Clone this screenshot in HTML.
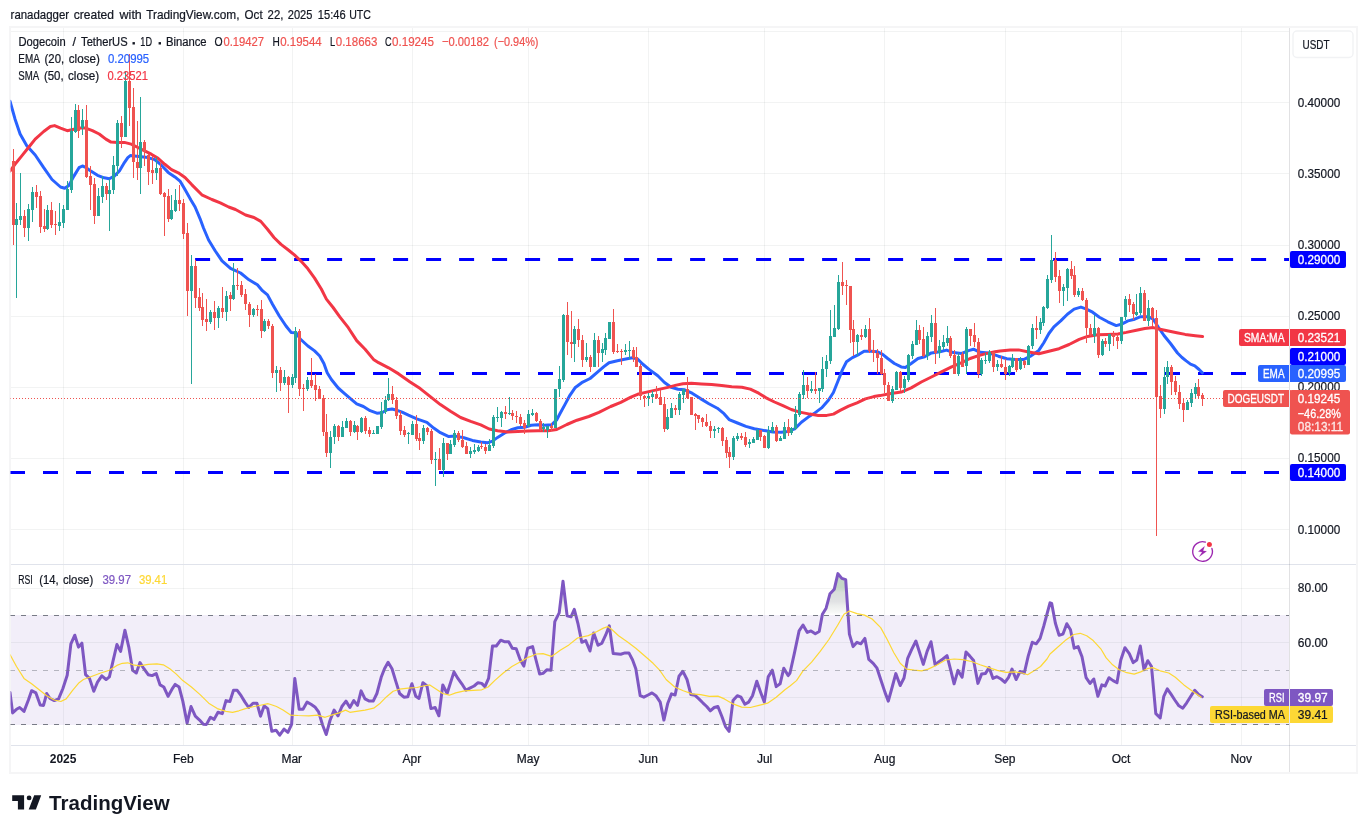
<!DOCTYPE html>
<html><head><meta charset="utf-8"><title>DOGEUSDT chart</title>
<style>html,body{margin:0;padding:0;background:#fff;}body{width:1367px;height:833px;position:relative;overflow:hidden;font-family:"Liberation Sans", sans-serif;}</style>
</head><body>
<svg width="1367" height="833" viewBox="0 0 1367 833" style="position:absolute;left:0;top:0;font-family:'Liberation Sans',sans-serif">
<defs><filter id="gs" x="0" y="0" width="100%" height="100%" filterUnits="userSpaceOnUse" color-interpolation-filters="sRGB"><feOffset dx="0" dy="0"/></filter><clipPath id="cm"><rect x="10.5" y="28" width="1278.5" height="536"/></clipPath><clipPath id="cr"><rect x="10.5" y="565" width="1278.5" height="180"/></clipPath><linearGradient id="ob" gradientUnits="userSpaceOnUse" x1="0" y1="570" x2="0" y2="615"><stop offset="0" stop-color="#c0d4c3"/><stop offset="0.40" stop-color="#c6d7c8"/><stop offset="0.50" stop-color="#d9dedb"/><stop offset="0.70" stop-color="#e1e2e4"/><stop offset="0.80" stop-color="#eceeed"/><stop offset="0.93" stop-color="#f6f7f6"/><stop offset="1" stop-color="#ffffff"/></linearGradient></defs>
<rect x="10" y="27" width="1347" height="746" fill="#fff" stroke="#f5f5f6" stroke-width="2"/>
<g shape-rendering="crispEdges">
<rect x="63" y="28" width="1" height="717" fill="#2a2e39" fill-opacity="0.06"/>
<rect x="183" y="28" width="1" height="717" fill="#2a2e39" fill-opacity="0.06"/>
<rect x="292" y="28" width="1" height="717" fill="#2a2e39" fill-opacity="0.06"/>
<rect x="412" y="28" width="1" height="717" fill="#2a2e39" fill-opacity="0.06"/>
<rect x="528" y="28" width="1" height="717" fill="#2a2e39" fill-opacity="0.06"/>
<rect x="648" y="28" width="1" height="717" fill="#2a2e39" fill-opacity="0.06"/>
<rect x="764" y="28" width="1" height="717" fill="#2a2e39" fill-opacity="0.06"/>
<rect x="884" y="28" width="1" height="717" fill="#2a2e39" fill-opacity="0.06"/>
<rect x="1005" y="28" width="1" height="717" fill="#2a2e39" fill-opacity="0.06"/>
<rect x="1121" y="28" width="1" height="717" fill="#2a2e39" fill-opacity="0.06"/>
<rect x="1241" y="28" width="1" height="717" fill="#2a2e39" fill-opacity="0.06"/>
<rect x="11" y="31" width="1278" height="1" fill="#2a2e39" fill-opacity="0.06"/>
<rect x="11" y="102" width="1278" height="1" fill="#2a2e39" fill-opacity="0.06"/>
<rect x="11" y="173" width="1278" height="1" fill="#2a2e39" fill-opacity="0.06"/>
<rect x="11" y="245" width="1278" height="1" fill="#2a2e39" fill-opacity="0.06"/>
<rect x="11" y="316" width="1278" height="1" fill="#2a2e39" fill-opacity="0.06"/>
<rect x="11" y="387" width="1278" height="1" fill="#2a2e39" fill-opacity="0.06"/>
<rect x="11" y="458" width="1278" height="1" fill="#2a2e39" fill-opacity="0.06"/>
<rect x="11" y="529" width="1278" height="1" fill="#2a2e39" fill-opacity="0.06"/>
<rect x="11" y="615" width="1278" height="109.5" fill="#7e57c2" fill-opacity="0.1"/>
<rect x="11" y="588" width="1278" height="1" fill="#2a2e39" fill-opacity="0.06"/>
<rect x="11" y="642" width="1278" height="1" fill="#2a2e39" fill-opacity="0.06"/>
<rect x="11" y="697" width="1278" height="1" fill="#2a2e39" fill-opacity="0.06"/>
</g>
<g shape-rendering="crispEdges">
<rect x="11" y="564" width="1345" height="1" fill="#e0e3eb"/>
<rect x="11" y="745" width="1345" height="1" fill="#e0e3eb"/>
<rect x="1289" y="28" width="1" height="744" fill="#2a2e39" fill-opacity="0.14"/>
</g>
<g clip-path="url(#cm)">
<line x1="195.1" y1="259.5" x2="1290" y2="259.5" stroke="#0000ff" stroke-width="3" stroke-dasharray="15 18"/>
<line x1="307" y1="373.5" x2="1290" y2="373.5" stroke="#0000ff" stroke-width="3" stroke-dasharray="15 18"/>
<line x1="10" y1="472.5" x2="1290" y2="472.5" stroke="#0000ff" stroke-width="3" stroke-dasharray="15 18"/>
<polyline points="10,101.2 15,118.9 20.1,134 26.8,145.8 35.2,155 43.7,167.7 52,179.5 60.5,187 64.7,188.2 68.9,185.4 73.9,176.1 79,167.7 82.4,166 85.7,167.4 90.8,171 97.5,175.3 104.2,177.8 109.3,178.8 114.3,176.1 119.4,171 124.4,162.6 127.8,157.6 130.3,155.6 134.5,155.9 141.2,156.7 148,157.6 154.7,159.6 161.4,165.2 168.2,172.4 174.9,176.9 180,181.1 185,189.6 190.9,200 195.1,207 200.1,218.8 203.5,228 208.6,240 215.3,251 222,260.8 230.5,268.3 240.6,273 249,279.8 257.4,284.8 262.4,290.7 267.5,294.9 272.5,304.2 279.3,316 286,326 291.1,332.4 296.1,332.8 300.3,339 307.9,346 314.6,350.9 319.7,356 323.9,363.6 327.2,372.8 331.4,379.5 338.2,388 344.9,393.8 351.6,399.7 356.7,403.9 363.4,406.5 370.1,410.7 376.9,413.2 381.9,412.7 387,409.8 392,409 397.1,410.3 402.1,412.2 408.4,415.2 416.8,418.9 426.9,422.3 433.7,428.1 440.4,432.7 448.8,436.6 455.5,436.1 463.9,437.7 472.4,440.4 480.8,441.9 487.5,442.8 492.5,441.1 497.6,437.4 504.3,433.2 511.1,429.8 517.8,427.8 524.5,427.3 531.2,425.3 538,424.8 544.7,425.3 551.4,424.8 556.5,420.2 559.9,413.8 564.9,404.6 569.9,395.3 575,387.8 581.7,382.7 590.1,378.5 597.2,372.4 603.9,366.6 609,362.7 617.4,360.7 625.8,359 632.5,357.8 637.6,359 642.6,364 649.4,369.6 657.8,375.8 664.5,382.5 671.2,387.3 678,389.3 684.7,389.8 692.1,393.2 700.5,398.6 708.9,403.7 717.3,408.2 724,413.7 729.1,419.6 737.5,423 745.9,426.4 754.3,428.7 764.4,430.6 772.8,431.9 781.2,432.3 788,431.4 794.7,428.9 801.4,422.2 808.2,417.1 814.9,412.9 821.6,407.9 828.4,400.3 833.4,392.5 837.8,381.5 842.5,369.6 846.5,361.8 852.4,357.6 859.1,354.3 864.1,351.2 870.9,351.2 877.6,351.8 882.6,354.3 887.7,358.5 894.4,363.5 901.2,366.9 905.4,367.4 911.2,363.5 918,358.5 924.7,356.8 931.4,352.9 939.9,351.8 946.6,350.1 953.3,352.6 961.7,353.4 968.5,350.6 973.5,349.2 980.2,352.3 988.6,352.9 998.4,356.2 1006.8,358.8 1015.2,359.6 1023.7,359.6 1030.4,356.2 1038.8,350.4 1043.8,342.8 1048.9,333.5 1053.9,326.8 1060.7,320.9 1067.4,314.2 1074.1,309.1 1080.9,307.1 1085.9,308.8 1092.6,312.2 1099.4,317.2 1107.8,321.8 1116.2,325.6 1121.2,324.3 1128,320.9 1134.7,319.2 1140.6,316.7 1148.2,316.7 1153.2,319.2 1158.1,326.8 1164,335.5 1170.5,343.5 1177.5,353 1182,357.5 1186.2,360.9 1190.5,364.1 1194.8,365.8 1199.1,369.5 1202.4,372.8" fill="none" stroke="#2962ff" stroke-width="3" stroke-linejoin="round" stroke-linecap="round" />
<polyline points="10,171 15,164.3 21.8,155.9 28.5,147.5 35.2,139.1 43.7,131.5 50.4,126.5 54.6,125.6 60.5,128.1 67.2,130.7 73.9,129.3 80.7,128.1 85.7,128.1 92.4,130.7 99.2,134 105.9,139.1 111,142.1 117.7,142.4 124.4,142.4 131.2,144.1 137.9,147.5 144.6,150.9 151.3,154.2 158.1,158.4 164.8,164.3 171.5,169.6 178.3,172.8 185,177.4 191.7,184.6 201.8,194.8 211.9,199.5 220.3,202.8 228.7,207 235.5,209.5 245.6,215 254,217.5 260.8,221.4 267.5,229.3 274.2,237.7 281,244.4 287.7,249.5 294.4,254.9 301.2,261.3 307.9,268.8 314.6,278.1 321.3,289 326.4,299.1 333.1,307.5 339.8,316.8 348.3,327.7 356.7,340.6 365.1,349.3 373.5,359.4 378.6,362.7 388.6,367.8 398.7,373.9 410.1,381.9 420.2,388.6 430.3,396.7 440.4,404.6 450.5,411.3 460.6,417.5 470.7,421.4 480.8,424.8 489.2,429 497.6,430.7 507.7,432 517.8,431.5 527.9,431 538,430.7 548.1,430.7 556.8,429.5 566.9,424.5 577,420.2 588.8,416.5 598.9,412.3 610.7,406.5 620.8,402.3 630.9,397.2 637.6,394.3 647.7,391.9 657.8,389.6 667.9,387.4 676.3,385.1 683,383.7 691.4,383.2 701.5,383.9 711.6,384.6 721.7,385.6 731.8,386.8 741.9,387.3 750.3,389.1 758.7,393.2 766.1,397.8 774.5,402 782.9,405.7 791.3,409.5 799.8,412.1 809.8,414.1 818.3,415.4 826.7,415.4 833.4,414.1 840.1,410.4 848.6,406.2 857,402.8 865.4,398.9 873.8,396.6 880,395.6 889.4,393.8 901.2,392.1 911.2,387.9 921.3,382 931.4,377 941.5,371.9 951.6,366.9 961.7,362.7 970.1,358.5 978.6,355.6 987,353.4 995,351.8 1000.1,350.9 1010.2,349.9 1018.6,349.9 1028.7,352 1038.8,353.7 1048.9,351.2 1059,348.7 1069.1,344.5 1079.2,339.4 1087.6,336.4 1097.7,334.7 1107.8,334.4 1117.9,334 1126.3,332.4 1136.4,330.2 1144.8,328.5 1153.2,327.6 1160,329.3 1168.4,331 1176.8,332.7 1185.2,334.4 1195.3,335.7 1202.6,336.6" fill="none" stroke="#f23645" stroke-width="3" stroke-linejoin="round" stroke-linecap="round" />
<g shape-rendering="crispEdges">
<rect x="13" y="149" width="1" height="96" fill="#ef5350"/><rect x="12" y="161" width="3" height="64" fill="#ef5350"/>
<rect x="16" y="203" width="1" height="95" fill="#26a69a"/><rect x="15" y="219" width="3" height="6" fill="#26a69a"/>
<rect x="20" y="173" width="1" height="52" fill="#26a69a"/><rect x="19" y="216" width="3" height="4" fill="#26a69a"/>
<rect x="24" y="210" width="1" height="27" fill="#ef5350"/><rect x="23" y="216" width="3" height="12" fill="#ef5350"/>
<rect x="28" y="204" width="1" height="37" fill="#26a69a"/><rect x="27" y="209" width="3" height="19" fill="#26a69a"/>
<rect x="32" y="187" width="1" height="35" fill="#26a69a"/><rect x="31" y="192" width="3" height="18" fill="#26a69a"/>
<rect x="36" y="185" width="1" height="23" fill="#ef5350"/><rect x="35" y="192" width="3" height="5" fill="#ef5350"/>
<rect x="40" y="191" width="1" height="42" fill="#ef5350"/><rect x="39" y="196" width="3" height="31" fill="#ef5350"/>
<rect x="44" y="209" width="1" height="23" fill="#ef5350"/><rect x="43" y="226" width="3" height="3" fill="#ef5350"/>
<rect x="47" y="205" width="1" height="25" fill="#26a69a"/><rect x="46" y="210" width="3" height="19" fill="#26a69a"/>
<rect x="51" y="202" width="1" height="26" fill="#ef5350"/><rect x="50" y="210" width="3" height="15" fill="#ef5350"/>
<rect x="55" y="211" width="1" height="24" fill="#ef5350"/><rect x="54" y="224" width="3" height="1" fill="#ef5350"/>
<rect x="59" y="203" width="1" height="28" fill="#26a69a"/><rect x="58" y="222" width="3" height="4" fill="#26a69a"/>
<rect x="63" y="205" width="1" height="23" fill="#26a69a"/><rect x="62" y="209" width="3" height="14" fill="#26a69a"/>
<rect x="67" y="181" width="1" height="29" fill="#26a69a"/><rect x="66" y="189" width="3" height="21" fill="#26a69a"/>
<rect x="71" y="117" width="1" height="76" fill="#26a69a"/><rect x="70" y="131" width="3" height="59" fill="#26a69a"/>
<rect x="75" y="104" width="1" height="29" fill="#26a69a"/><rect x="74" y="110" width="3" height="22" fill="#26a69a"/>
<rect x="78" y="105" width="1" height="33" fill="#ef5350"/><rect x="77" y="110" width="3" height="21" fill="#ef5350"/>
<rect x="82" y="109" width="1" height="26" fill="#26a69a"/><rect x="81" y="120" width="3" height="8" fill="#26a69a"/>
<rect x="86" y="105" width="1" height="73" fill="#ef5350"/><rect x="85" y="120" width="3" height="57" fill="#ef5350"/>
<rect x="90" y="166" width="1" height="44" fill="#ef5350"/><rect x="89" y="176" width="3" height="9" fill="#ef5350"/>
<rect x="94" y="178" width="1" height="46" fill="#ef5350"/><rect x="93" y="184" width="3" height="32" fill="#ef5350"/>
<rect x="98" y="188" width="1" height="28" fill="#26a69a"/><rect x="97" y="196" width="3" height="20" fill="#26a69a"/>
<rect x="102" y="176" width="1" height="27" fill="#26a69a"/><rect x="101" y="186" width="3" height="11" fill="#26a69a"/>
<rect x="106" y="183" width="1" height="17" fill="#ef5350"/><rect x="105" y="186" width="3" height="8" fill="#ef5350"/>
<rect x="109" y="179" width="1" height="52" fill="#26a69a"/><rect x="108" y="190" width="3" height="4" fill="#26a69a"/>
<rect x="113" y="156" width="1" height="38" fill="#26a69a"/><rect x="112" y="165" width="3" height="25" fill="#26a69a"/>
<rect x="117" y="120" width="1" height="56" fill="#26a69a"/><rect x="116" y="123" width="3" height="43" fill="#26a69a"/>
<rect x="121" y="116" width="1" height="32" fill="#ef5350"/><rect x="120" y="123" width="3" height="14" fill="#ef5350"/>
<rect x="125" y="71" width="1" height="66" fill="#26a69a"/><rect x="124" y="81" width="3" height="56" fill="#26a69a"/>
<rect x="129" y="54" width="1" height="72" fill="#ef5350"/><rect x="128" y="81" width="3" height="27" fill="#ef5350"/>
<rect x="133" y="88" width="1" height="90" fill="#ef5350"/><rect x="132" y="107" width="3" height="55" fill="#ef5350"/>
<rect x="137" y="121" width="1" height="59" fill="#ef5350"/><rect x="136" y="162" width="3" height="6" fill="#ef5350"/>
<rect x="140" y="97" width="1" height="97" fill="#26a69a"/><rect x="139" y="142" width="3" height="26" fill="#26a69a"/>
<rect x="144" y="140" width="1" height="26" fill="#ef5350"/><rect x="143" y="142" width="3" height="10" fill="#ef5350"/>
<rect x="148" y="154" width="1" height="31" fill="#ef5350"/><rect x="147" y="155" width="3" height="17" fill="#ef5350"/>
<rect x="152" y="156" width="1" height="28" fill="#ef5350"/><rect x="151" y="170" width="3" height="3" fill="#ef5350"/>
<rect x="156" y="157" width="1" height="23" fill="#26a69a"/><rect x="155" y="168" width="3" height="5" fill="#26a69a"/>
<rect x="160" y="163" width="1" height="32" fill="#ef5350"/><rect x="159" y="168" width="3" height="26" fill="#ef5350"/>
<rect x="164" y="192" width="1" height="44" fill="#ef5350"/><rect x="163" y="193" width="3" height="4" fill="#ef5350"/>
<rect x="168" y="189" width="1" height="33" fill="#ef5350"/><rect x="167" y="196" width="3" height="23" fill="#ef5350"/>
<rect x="171" y="195" width="1" height="25" fill="#26a69a"/><rect x="170" y="210" width="3" height="9" fill="#26a69a"/>
<rect x="175" y="189" width="1" height="23" fill="#26a69a"/><rect x="174" y="200" width="3" height="11" fill="#26a69a"/>
<rect x="179" y="185" width="1" height="26" fill="#ef5350"/><rect x="178" y="200" width="3" height="4" fill="#ef5350"/>
<rect x="183" y="199" width="1" height="40" fill="#ef5350"/><rect x="182" y="203" width="3" height="31" fill="#ef5350"/>
<rect x="187" y="223" width="1" height="93" fill="#ef5350"/><rect x="186" y="233" width="3" height="58" fill="#ef5350"/>
<rect x="191" y="255" width="1" height="129" fill="#26a69a"/><rect x="190" y="266" width="3" height="25" fill="#26a69a"/>
<rect x="195" y="260" width="1" height="48" fill="#ef5350"/><rect x="194" y="266" width="3" height="32" fill="#ef5350"/>
<rect x="199" y="288" width="1" height="23" fill="#ef5350"/><rect x="198" y="297" width="3" height="11" fill="#ef5350"/>
<rect x="202" y="293" width="1" height="33" fill="#ef5350"/><rect x="201" y="307" width="3" height="13" fill="#ef5350"/>
<rect x="206" y="299" width="1" height="32" fill="#ef5350"/><rect x="205" y="319" width="3" height="3" fill="#ef5350"/>
<rect x="210" y="310" width="1" height="14" fill="#26a69a"/><rect x="209" y="312" width="3" height="10" fill="#26a69a"/>
<rect x="214" y="301" width="1" height="29" fill="#ef5350"/><rect x="213" y="312" width="3" height="6" fill="#ef5350"/>
<rect x="218" y="306" width="1" height="22" fill="#26a69a"/><rect x="217" y="308" width="3" height="10" fill="#26a69a"/>
<rect x="222" y="287" width="1" height="31" fill="#ef5350"/><rect x="221" y="308" width="3" height="4" fill="#ef5350"/>
<rect x="226" y="291" width="1" height="30" fill="#26a69a"/><rect x="225" y="296" width="3" height="16" fill="#26a69a"/>
<rect x="230" y="292" width="1" height="19" fill="#ef5350"/><rect x="229" y="295" width="3" height="4" fill="#ef5350"/>
<rect x="233" y="263" width="1" height="37" fill="#26a69a"/><rect x="232" y="285" width="3" height="14" fill="#26a69a"/>
<rect x="237" y="268" width="1" height="22" fill="#ef5350"/><rect x="236" y="285" width="3" height="1" fill="#ef5350"/>
<rect x="241" y="281" width="1" height="16" fill="#ef5350"/><rect x="240" y="285" width="3" height="10" fill="#ef5350"/>
<rect x="245" y="289" width="1" height="21" fill="#ef5350"/><rect x="244" y="294" width="3" height="10" fill="#ef5350"/>
<rect x="249" y="302" width="1" height="25" fill="#ef5350"/><rect x="248" y="304" width="3" height="11" fill="#ef5350"/>
<rect x="253" y="308" width="1" height="9" fill="#26a69a"/><rect x="252" y="309" width="3" height="6" fill="#26a69a"/>
<rect x="257" y="305" width="1" height="11" fill="#ef5350"/><rect x="256" y="309" width="3" height="1" fill="#ef5350"/>
<rect x="261" y="300" width="1" height="38" fill="#ef5350"/><rect x="260" y="309" width="3" height="22" fill="#ef5350"/>
<rect x="264" y="319" width="1" height="13" fill="#26a69a"/><rect x="263" y="321" width="3" height="10" fill="#26a69a"/>
<rect x="268" y="319" width="1" height="10" fill="#ef5350"/><rect x="267" y="321" width="3" height="5" fill="#ef5350"/>
<rect x="272" y="324" width="1" height="54" fill="#ef5350"/><rect x="271" y="326" width="3" height="47" fill="#ef5350"/>
<rect x="276" y="366" width="1" height="26" fill="#26a69a"/><rect x="275" y="370" width="3" height="3" fill="#26a69a"/>
<rect x="280" y="367" width="1" height="24" fill="#ef5350"/><rect x="279" y="370" width="3" height="13" fill="#ef5350"/>
<rect x="284" y="370" width="1" height="15" fill="#26a69a"/><rect x="283" y="377" width="3" height="6" fill="#26a69a"/>
<rect x="288" y="376" width="1" height="37" fill="#ef5350"/><rect x="287" y="377" width="3" height="8" fill="#ef5350"/>
<rect x="292" y="374" width="1" height="14" fill="#26a69a"/><rect x="291" y="377" width="3" height="8" fill="#26a69a"/>
<rect x="295" y="327" width="1" height="56" fill="#26a69a"/><rect x="294" y="331" width="3" height="47" fill="#26a69a"/>
<rect x="299" y="329" width="1" height="67" fill="#ef5350"/><rect x="298" y="331" width="3" height="58" fill="#ef5350"/>
<rect x="303" y="384" width="1" height="27" fill="#ef5350"/><rect x="302" y="388" width="3" height="1" fill="#ef5350"/>
<rect x="307" y="377" width="1" height="14" fill="#26a69a"/><rect x="306" y="380" width="3" height="9" fill="#26a69a"/>
<rect x="311" y="358" width="1" height="30" fill="#ef5350"/><rect x="310" y="380" width="3" height="6" fill="#ef5350"/>
<rect x="315" y="374" width="1" height="27" fill="#ef5350"/><rect x="314" y="385" width="3" height="5" fill="#ef5350"/>
<rect x="319" y="386" width="1" height="13" fill="#ef5350"/><rect x="318" y="389" width="3" height="10" fill="#ef5350"/>
<rect x="323" y="395" width="1" height="41" fill="#ef5350"/><rect x="322" y="398" width="3" height="34" fill="#ef5350"/>
<rect x="326" y="414" width="1" height="43" fill="#ef5350"/><rect x="325" y="432" width="3" height="21" fill="#ef5350"/>
<rect x="330" y="431" width="1" height="37" fill="#26a69a"/><rect x="329" y="437" width="3" height="16" fill="#26a69a"/>
<rect x="334" y="424" width="1" height="20" fill="#26a69a"/><rect x="333" y="426" width="3" height="11" fill="#26a69a"/>
<rect x="338" y="425" width="1" height="16" fill="#ef5350"/><rect x="337" y="426" width="3" height="11" fill="#ef5350"/>
<rect x="342" y="421" width="1" height="16" fill="#26a69a"/><rect x="341" y="427" width="3" height="10" fill="#26a69a"/>
<rect x="346" y="418" width="1" height="10" fill="#26a69a"/><rect x="345" y="421" width="3" height="7" fill="#26a69a"/>
<rect x="350" y="420" width="1" height="16" fill="#ef5350"/><rect x="349" y="421" width="3" height="11" fill="#ef5350"/>
<rect x="354" y="421" width="1" height="12" fill="#26a69a"/><rect x="353" y="425" width="3" height="7" fill="#26a69a"/>
<rect x="357" y="425" width="1" height="15" fill="#ef5350"/><rect x="356" y="426" width="3" height="6" fill="#ef5350"/>
<rect x="361" y="417" width="1" height="16" fill="#26a69a"/><rect x="360" y="418" width="3" height="14" fill="#26a69a"/>
<rect x="365" y="416" width="1" height="18" fill="#ef5350"/><rect x="364" y="418" width="3" height="13" fill="#ef5350"/>
<rect x="369" y="427" width="1" height="10" fill="#ef5350"/><rect x="368" y="430" width="3" height="4" fill="#ef5350"/>
<rect x="373" y="430" width="1" height="4" fill="#26a69a"/><rect x="372" y="433" width="3" height="1" fill="#26a69a"/>
<rect x="377" y="426" width="1" height="8" fill="#26a69a"/><rect x="376" y="426" width="3" height="8" fill="#26a69a"/>
<rect x="381" y="402" width="1" height="27" fill="#26a69a"/><rect x="380" y="411" width="3" height="16" fill="#26a69a"/>
<rect x="385" y="396" width="1" height="18" fill="#26a69a"/><rect x="384" y="400" width="3" height="12" fill="#26a69a"/>
<rect x="388" y="378" width="1" height="23" fill="#26a69a"/><rect x="387" y="394" width="3" height="6" fill="#26a69a"/>
<rect x="392" y="386" width="1" height="18" fill="#ef5350"/><rect x="391" y="394" width="3" height="6" fill="#ef5350"/>
<rect x="396" y="397" width="1" height="22" fill="#ef5350"/><rect x="395" y="400" width="3" height="16" fill="#ef5350"/>
<rect x="400" y="411" width="1" height="24" fill="#ef5350"/><rect x="399" y="415" width="3" height="16" fill="#ef5350"/>
<rect x="404" y="426" width="1" height="11" fill="#ef5350"/><rect x="403" y="430" width="3" height="5" fill="#ef5350"/>
<rect x="408" y="432" width="1" height="12" fill="#26a69a"/><rect x="407" y="433" width="3" height="1" fill="#26a69a"/>
<rect x="412" y="421" width="1" height="14" fill="#26a69a"/><rect x="411" y="424" width="3" height="11" fill="#26a69a"/>
<rect x="416" y="415" width="1" height="26" fill="#ef5350"/><rect x="415" y="424" width="3" height="15" fill="#ef5350"/>
<rect x="419" y="433" width="1" height="17" fill="#ef5350"/><rect x="418" y="438" width="3" height="3" fill="#ef5350"/>
<rect x="423" y="425" width="1" height="19" fill="#26a69a"/><rect x="422" y="428" width="3" height="13" fill="#26a69a"/>
<rect x="427" y="427" width="1" height="8" fill="#ef5350"/><rect x="426" y="428" width="3" height="4" fill="#ef5350"/>
<rect x="431" y="429" width="1" height="35" fill="#ef5350"/><rect x="430" y="431" width="3" height="29" fill="#ef5350"/>
<rect x="435" y="452" width="1" height="34" fill="#26a69a"/><rect x="434" y="459" width="3" height="1" fill="#26a69a"/>
<rect x="439" y="448" width="1" height="22" fill="#ef5350"/><rect x="438" y="459" width="3" height="11" fill="#ef5350"/>
<rect x="443" y="438" width="1" height="39" fill="#26a69a"/><rect x="442" y="443" width="3" height="27" fill="#26a69a"/>
<rect x="447" y="443" width="1" height="17" fill="#ef5350"/><rect x="446" y="443" width="3" height="11" fill="#ef5350"/>
<rect x="450" y="440" width="1" height="14" fill="#26a69a"/><rect x="449" y="444" width="3" height="10" fill="#26a69a"/>
<rect x="454" y="430" width="1" height="17" fill="#26a69a"/><rect x="453" y="433" width="3" height="12" fill="#26a69a"/>
<rect x="458" y="431" width="1" height="11" fill="#ef5350"/><rect x="457" y="433" width="3" height="7" fill="#ef5350"/>
<rect x="462" y="430" width="1" height="18" fill="#ef5350"/><rect x="461" y="440" width="3" height="7" fill="#ef5350"/>
<rect x="466" y="442" width="1" height="12" fill="#ef5350"/><rect x="465" y="446" width="3" height="8" fill="#ef5350"/>
<rect x="470" y="447" width="1" height="11" fill="#26a69a"/><rect x="469" y="451" width="3" height="3" fill="#26a69a"/>
<rect x="474" y="444" width="1" height="10" fill="#26a69a"/><rect x="473" y="450" width="3" height="2" fill="#26a69a"/>
<rect x="478" y="445" width="1" height="7" fill="#26a69a"/><rect x="477" y="447" width="3" height="4" fill="#26a69a"/>
<rect x="481" y="442" width="1" height="7" fill="#ef5350"/><rect x="480" y="446" width="3" height="1" fill="#ef5350"/>
<rect x="485" y="444" width="1" height="10" fill="#ef5350"/><rect x="484" y="447" width="3" height="4" fill="#ef5350"/>
<rect x="489" y="439" width="1" height="12" fill="#26a69a"/><rect x="488" y="445" width="3" height="6" fill="#26a69a"/>
<rect x="493" y="415" width="1" height="33" fill="#26a69a"/><rect x="492" y="417" width="3" height="29" fill="#26a69a"/>
<rect x="497" y="407" width="1" height="15" fill="#26a69a"/><rect x="496" y="417" width="3" height="1" fill="#26a69a"/>
<rect x="501" y="411" width="1" height="16" fill="#26a69a"/><rect x="500" y="412" width="3" height="6" fill="#26a69a"/>
<rect x="505" y="406" width="1" height="13" fill="#ef5350"/><rect x="504" y="412" width="3" height="2" fill="#ef5350"/>
<rect x="509" y="397" width="1" height="18" fill="#26a69a"/><rect x="508" y="413" width="3" height="1" fill="#26a69a"/>
<rect x="512" y="410" width="1" height="10" fill="#ef5350"/><rect x="511" y="413" width="3" height="3" fill="#ef5350"/>
<rect x="516" y="411" width="1" height="12" fill="#ef5350"/><rect x="515" y="416" width="3" height="1" fill="#ef5350"/>
<rect x="520" y="414" width="1" height="12" fill="#ef5350"/><rect x="519" y="417" width="3" height="7" fill="#ef5350"/>
<rect x="524" y="420" width="1" height="14" fill="#ef5350"/><rect x="523" y="423" width="3" height="5" fill="#ef5350"/>
<rect x="528" y="410" width="1" height="17" fill="#26a69a"/><rect x="527" y="414" width="3" height="12" fill="#26a69a"/>
<rect x="532" y="409" width="1" height="7" fill="#26a69a"/><rect x="531" y="413" width="3" height="2" fill="#26a69a"/>
<rect x="536" y="412" width="1" height="10" fill="#ef5350"/><rect x="535" y="413" width="3" height="8" fill="#ef5350"/>
<rect x="540" y="419" width="1" height="12" fill="#ef5350"/><rect x="539" y="421" width="3" height="9" fill="#ef5350"/>
<rect x="543" y="423" width="1" height="9" fill="#26a69a"/><rect x="542" y="427" width="3" height="2" fill="#26a69a"/>
<rect x="547" y="426" width="1" height="12" fill="#26a69a"/><rect x="546" y="426" width="3" height="4" fill="#26a69a"/>
<rect x="551" y="423" width="1" height="8" fill="#ef5350"/><rect x="550" y="426" width="3" height="2" fill="#ef5350"/>
<rect x="555" y="389" width="1" height="39" fill="#26a69a"/><rect x="554" y="389" width="3" height="39" fill="#26a69a"/>
<rect x="559" y="366" width="1" height="31" fill="#26a69a"/><rect x="558" y="379" width="3" height="10" fill="#26a69a"/>
<rect x="563" y="314" width="1" height="68" fill="#26a69a"/><rect x="562" y="315" width="3" height="65" fill="#26a69a"/>
<rect x="567" y="302" width="1" height="53" fill="#ef5350"/><rect x="566" y="315" width="3" height="27" fill="#ef5350"/>
<rect x="571" y="311" width="1" height="47" fill="#ef5350"/><rect x="570" y="342" width="3" height="2" fill="#ef5350"/>
<rect x="574" y="326" width="1" height="36" fill="#26a69a"/><rect x="573" y="329" width="3" height="15" fill="#26a69a"/>
<rect x="578" y="319" width="1" height="28" fill="#ef5350"/><rect x="577" y="329" width="3" height="11" fill="#ef5350"/>
<rect x="582" y="335" width="1" height="32" fill="#ef5350"/><rect x="581" y="340" width="3" height="20" fill="#ef5350"/>
<rect x="586" y="343" width="1" height="19" fill="#26a69a"/><rect x="585" y="357" width="3" height="3" fill="#26a69a"/>
<rect x="590" y="355" width="1" height="17" fill="#ef5350"/><rect x="589" y="357" width="3" height="10" fill="#ef5350"/>
<rect x="594" y="333" width="1" height="34" fill="#26a69a"/><rect x="593" y="340" width="3" height="27" fill="#26a69a"/>
<rect x="598" y="336" width="1" height="31" fill="#ef5350"/><rect x="597" y="340" width="3" height="13" fill="#ef5350"/>
<rect x="602" y="343" width="1" height="19" fill="#26a69a"/><rect x="601" y="349" width="3" height="4" fill="#26a69a"/>
<rect x="605" y="333" width="1" height="22" fill="#26a69a"/><rect x="604" y="338" width="3" height="12" fill="#26a69a"/>
<rect x="609" y="322" width="1" height="17" fill="#26a69a"/><rect x="608" y="322" width="3" height="17" fill="#26a69a"/>
<rect x="613" y="309" width="1" height="45" fill="#ef5350"/><rect x="612" y="322" width="3" height="30" fill="#ef5350"/>
<rect x="617" y="344" width="1" height="9" fill="#ef5350"/><rect x="616" y="351" width="3" height="1" fill="#ef5350"/>
<rect x="621" y="349" width="1" height="16" fill="#ef5350"/><rect x="620" y="351" width="3" height="1" fill="#ef5350"/>
<rect x="625" y="344" width="1" height="11" fill="#26a69a"/><rect x="624" y="350" width="3" height="2" fill="#26a69a"/>
<rect x="629" y="341" width="1" height="18" fill="#26a69a"/><rect x="628" y="350" width="3" height="1" fill="#26a69a"/>
<rect x="633" y="347" width="1" height="15" fill="#ef5350"/><rect x="632" y="350" width="3" height="8" fill="#ef5350"/>
<rect x="636" y="347" width="1" height="20" fill="#ef5350"/><rect x="635" y="357" width="3" height="10" fill="#ef5350"/>
<rect x="640" y="364" width="1" height="36" fill="#ef5350"/><rect x="639" y="366" width="3" height="30" fill="#ef5350"/>
<rect x="644" y="395" width="1" height="12" fill="#ef5350"/><rect x="643" y="396" width="3" height="2" fill="#ef5350"/>
<rect x="648" y="393" width="1" height="13" fill="#26a69a"/><rect x="647" y="396" width="3" height="2" fill="#26a69a"/>
<rect x="652" y="391" width="1" height="12" fill="#26a69a"/><rect x="651" y="394" width="3" height="3" fill="#26a69a"/>
<rect x="656" y="386" width="1" height="13" fill="#ef5350"/><rect x="655" y="394" width="3" height="4" fill="#ef5350"/>
<rect x="660" y="390" width="1" height="15" fill="#ef5350"/><rect x="659" y="397" width="3" height="8" fill="#ef5350"/>
<rect x="664" y="397" width="1" height="35" fill="#ef5350"/><rect x="663" y="404" width="3" height="25" fill="#ef5350"/>
<rect x="667" y="409" width="1" height="21" fill="#26a69a"/><rect x="666" y="417" width="3" height="12" fill="#26a69a"/>
<rect x="671" y="403" width="1" height="15" fill="#26a69a"/><rect x="670" y="408" width="3" height="10" fill="#26a69a"/>
<rect x="675" y="405" width="1" height="10" fill="#ef5350"/><rect x="674" y="408" width="3" height="2" fill="#ef5350"/>
<rect x="679" y="392" width="1" height="23" fill="#26a69a"/><rect x="678" y="394" width="3" height="16" fill="#26a69a"/>
<rect x="683" y="389" width="1" height="14" fill="#26a69a"/><rect x="682" y="389" width="3" height="6" fill="#26a69a"/>
<rect x="687" y="377" width="1" height="22" fill="#ef5350"/><rect x="686" y="389" width="3" height="9" fill="#ef5350"/>
<rect x="691" y="397" width="1" height="18" fill="#ef5350"/><rect x="690" y="397" width="3" height="18" fill="#ef5350"/>
<rect x="695" y="413" width="1" height="17" fill="#ef5350"/><rect x="694" y="414" width="3" height="2" fill="#ef5350"/>
<rect x="698" y="415" width="1" height="8" fill="#ef5350"/><rect x="697" y="415" width="3" height="4" fill="#ef5350"/>
<rect x="702" y="417" width="1" height="10" fill="#ef5350"/><rect x="701" y="418" width="3" height="4" fill="#ef5350"/>
<rect x="706" y="414" width="1" height="13" fill="#ef5350"/><rect x="705" y="422" width="3" height="4" fill="#ef5350"/>
<rect x="710" y="421" width="1" height="17" fill="#ef5350"/><rect x="709" y="426" width="3" height="5" fill="#ef5350"/>
<rect x="714" y="426" width="1" height="12" fill="#26a69a"/><rect x="713" y="429" width="3" height="2" fill="#26a69a"/>
<rect x="718" y="427" width="1" height="6" fill="#26a69a"/><rect x="717" y="428" width="3" height="1" fill="#26a69a"/>
<rect x="722" y="427" width="1" height="19" fill="#ef5350"/><rect x="721" y="428" width="3" height="13" fill="#ef5350"/>
<rect x="726" y="437" width="1" height="21" fill="#ef5350"/><rect x="725" y="440" width="3" height="13" fill="#ef5350"/>
<rect x="729" y="447" width="1" height="21" fill="#ef5350"/><rect x="728" y="452" width="3" height="5" fill="#ef5350"/>
<rect x="733" y="436" width="1" height="24" fill="#26a69a"/><rect x="732" y="438" width="3" height="19" fill="#26a69a"/>
<rect x="737" y="433" width="1" height="8" fill="#26a69a"/><rect x="736" y="436" width="3" height="3" fill="#26a69a"/>
<rect x="741" y="433" width="1" height="7" fill="#ef5350"/><rect x="740" y="436" width="3" height="2" fill="#ef5350"/>
<rect x="745" y="432" width="1" height="15" fill="#ef5350"/><rect x="744" y="437" width="3" height="8" fill="#ef5350"/>
<rect x="749" y="439" width="1" height="9" fill="#26a69a"/><rect x="748" y="442" width="3" height="2" fill="#26a69a"/>
<rect x="753" y="437" width="1" height="6" fill="#26a69a"/><rect x="752" y="439" width="3" height="4" fill="#26a69a"/>
<rect x="757" y="429" width="1" height="11" fill="#26a69a"/><rect x="756" y="430" width="3" height="10" fill="#26a69a"/>
<rect x="760" y="430" width="1" height="11" fill="#ef5350"/><rect x="759" y="430" width="3" height="7" fill="#ef5350"/>
<rect x="764" y="435" width="1" height="13" fill="#ef5350"/><rect x="763" y="436" width="3" height="12" fill="#ef5350"/>
<rect x="768" y="426" width="1" height="23" fill="#26a69a"/><rect x="767" y="431" width="3" height="17" fill="#26a69a"/>
<rect x="772" y="422" width="1" height="11" fill="#26a69a"/><rect x="771" y="427" width="3" height="4" fill="#26a69a"/>
<rect x="776" y="425" width="1" height="17" fill="#ef5350"/><rect x="775" y="427" width="3" height="14" fill="#ef5350"/>
<rect x="780" y="436" width="1" height="5" fill="#26a69a"/><rect x="779" y="438" width="3" height="3" fill="#26a69a"/>
<rect x="784" y="422" width="1" height="17" fill="#26a69a"/><rect x="783" y="427" width="3" height="12" fill="#26a69a"/>
<rect x="788" y="419" width="1" height="17" fill="#ef5350"/><rect x="787" y="427" width="3" height="6" fill="#ef5350"/>
<rect x="791" y="427" width="1" height="8" fill="#26a69a"/><rect x="790" y="428" width="3" height="5" fill="#26a69a"/>
<rect x="795" y="406" width="1" height="24" fill="#26a69a"/><rect x="794" y="414" width="3" height="15" fill="#26a69a"/>
<rect x="799" y="392" width="1" height="25" fill="#26a69a"/><rect x="798" y="394" width="3" height="21" fill="#26a69a"/>
<rect x="803" y="370" width="1" height="29" fill="#26a69a"/><rect x="802" y="385" width="3" height="10" fill="#26a69a"/>
<rect x="807" y="377" width="1" height="21" fill="#ef5350"/><rect x="806" y="385" width="3" height="6" fill="#ef5350"/>
<rect x="811" y="381" width="1" height="12" fill="#26a69a"/><rect x="810" y="389" width="3" height="2" fill="#26a69a"/>
<rect x="815" y="372" width="1" height="22" fill="#ef5350"/><rect x="814" y="389" width="3" height="2" fill="#ef5350"/>
<rect x="819" y="388" width="1" height="15" fill="#26a69a"/><rect x="818" y="388" width="3" height="3" fill="#26a69a"/>
<rect x="822" y="357" width="1" height="35" fill="#26a69a"/><rect x="821" y="369" width="3" height="20" fill="#26a69a"/>
<rect x="826" y="355" width="1" height="22" fill="#26a69a"/><rect x="825" y="361" width="3" height="8" fill="#26a69a"/>
<rect x="830" y="310" width="1" height="54" fill="#26a69a"/><rect x="829" y="336" width="3" height="25" fill="#26a69a"/>
<rect x="834" y="305" width="1" height="32" fill="#26a69a"/><rect x="833" y="328" width="3" height="9" fill="#26a69a"/>
<rect x="838" y="275" width="1" height="55" fill="#26a69a"/><rect x="837" y="282" width="3" height="47" fill="#26a69a"/>
<rect x="842" y="262" width="1" height="33" fill="#ef5350"/><rect x="841" y="282" width="3" height="4" fill="#ef5350"/>
<rect x="846" y="280" width="1" height="25" fill="#ef5350"/><rect x="845" y="285" width="3" height="1" fill="#ef5350"/>
<rect x="850" y="286" width="1" height="57" fill="#ef5350"/><rect x="849" y="286" width="3" height="44" fill="#ef5350"/>
<rect x="853" y="320" width="1" height="36" fill="#ef5350"/><rect x="852" y="329" width="3" height="13" fill="#ef5350"/>
<rect x="857" y="334" width="1" height="22" fill="#26a69a"/><rect x="856" y="335" width="3" height="7" fill="#26a69a"/>
<rect x="861" y="329" width="1" height="11" fill="#ef5350"/><rect x="860" y="335" width="3" height="2" fill="#ef5350"/>
<rect x="865" y="325" width="1" height="13" fill="#26a69a"/><rect x="864" y="329" width="3" height="8" fill="#26a69a"/>
<rect x="869" y="318" width="1" height="35" fill="#ef5350"/><rect x="868" y="329" width="3" height="22" fill="#ef5350"/>
<rect x="873" y="340" width="1" height="22" fill="#ef5350"/><rect x="872" y="350" width="3" height="3" fill="#ef5350"/>
<rect x="877" y="349" width="1" height="25" fill="#ef5350"/><rect x="876" y="353" width="3" height="5" fill="#ef5350"/>
<rect x="881" y="350" width="1" height="25" fill="#ef5350"/><rect x="880" y="358" width="3" height="16" fill="#ef5350"/>
<rect x="884" y="369" width="1" height="24" fill="#ef5350"/><rect x="883" y="373" width="3" height="12" fill="#ef5350"/>
<rect x="888" y="382" width="1" height="19" fill="#ef5350"/><rect x="887" y="385" width="3" height="16" fill="#ef5350"/>
<rect x="892" y="386" width="1" height="17" fill="#26a69a"/><rect x="891" y="389" width="3" height="12" fill="#26a69a"/>
<rect x="896" y="371" width="1" height="19" fill="#26a69a"/><rect x="895" y="372" width="3" height="18" fill="#26a69a"/>
<rect x="900" y="371" width="1" height="20" fill="#ef5350"/><rect x="899" y="372" width="3" height="16" fill="#ef5350"/>
<rect x="904" y="376" width="1" height="17" fill="#26a69a"/><rect x="903" y="379" width="3" height="9" fill="#26a69a"/>
<rect x="908" y="354" width="1" height="28" fill="#26a69a"/><rect x="907" y="355" width="3" height="25" fill="#26a69a"/>
<rect x="912" y="341" width="1" height="18" fill="#26a69a"/><rect x="911" y="344" width="3" height="12" fill="#26a69a"/>
<rect x="916" y="320" width="1" height="25" fill="#26a69a"/><rect x="915" y="330" width="3" height="15" fill="#26a69a"/>
<rect x="919" y="325" width="1" height="19" fill="#ef5350"/><rect x="918" y="330" width="3" height="10" fill="#ef5350"/>
<rect x="923" y="327" width="1" height="30" fill="#ef5350"/><rect x="922" y="339" width="3" height="17" fill="#ef5350"/>
<rect x="927" y="332" width="1" height="28" fill="#26a69a"/><rect x="926" y="336" width="3" height="20" fill="#26a69a"/>
<rect x="931" y="315" width="1" height="27" fill="#26a69a"/><rect x="930" y="323" width="3" height="14" fill="#26a69a"/>
<rect x="935" y="308" width="1" height="56" fill="#ef5350"/><rect x="934" y="323" width="3" height="30" fill="#ef5350"/>
<rect x="939" y="340" width="1" height="18" fill="#26a69a"/><rect x="938" y="346" width="3" height="7" fill="#26a69a"/>
<rect x="943" y="335" width="1" height="15" fill="#26a69a"/><rect x="942" y="342" width="3" height="5" fill="#26a69a"/>
<rect x="947" y="326" width="1" height="20" fill="#26a69a"/><rect x="946" y="338" width="3" height="5" fill="#26a69a"/>
<rect x="950" y="336" width="1" height="22" fill="#ef5350"/><rect x="949" y="338" width="3" height="18" fill="#ef5350"/>
<rect x="954" y="350" width="1" height="24" fill="#ef5350"/><rect x="953" y="355" width="3" height="19" fill="#ef5350"/>
<rect x="958" y="353" width="1" height="23" fill="#26a69a"/><rect x="957" y="356" width="3" height="18" fill="#26a69a"/>
<rect x="962" y="352" width="1" height="15" fill="#ef5350"/><rect x="961" y="354" width="3" height="13" fill="#ef5350"/>
<rect x="966" y="327" width="1" height="47" fill="#26a69a"/><rect x="965" y="329" width="3" height="37" fill="#26a69a"/>
<rect x="970" y="329" width="1" height="17" fill="#ef5350"/><rect x="969" y="329" width="3" height="7" fill="#ef5350"/>
<rect x="974" y="323" width="1" height="24" fill="#ef5350"/><rect x="973" y="335" width="3" height="7" fill="#ef5350"/>
<rect x="978" y="338" width="1" height="40" fill="#ef5350"/><rect x="977" y="342" width="3" height="32" fill="#ef5350"/>
<rect x="981" y="358" width="1" height="18" fill="#26a69a"/><rect x="980" y="360" width="3" height="14" fill="#26a69a"/>
<rect x="985" y="353" width="1" height="11" fill="#26a69a"/><rect x="984" y="360" width="3" height="1" fill="#26a69a"/>
<rect x="989" y="350" width="1" height="13" fill="#26a69a"/><rect x="988" y="352" width="3" height="9" fill="#26a69a"/>
<rect x="993" y="352" width="1" height="20" fill="#ef5350"/><rect x="992" y="352" width="3" height="15" fill="#ef5350"/>
<rect x="997" y="360" width="1" height="11" fill="#26a69a"/><rect x="996" y="364" width="3" height="3" fill="#26a69a"/>
<rect x="1001" y="356" width="1" height="12" fill="#ef5350"/><rect x="1000" y="364" width="3" height="3" fill="#ef5350"/>
<rect x="1005" y="359" width="1" height="21" fill="#ef5350"/><rect x="1004" y="367" width="3" height="7" fill="#ef5350"/>
<rect x="1009" y="365" width="1" height="11" fill="#26a69a"/><rect x="1008" y="366" width="3" height="7" fill="#26a69a"/>
<rect x="1012" y="354" width="1" height="14" fill="#26a69a"/><rect x="1011" y="358" width="3" height="9" fill="#26a69a"/>
<rect x="1016" y="358" width="1" height="14" fill="#ef5350"/><rect x="1015" y="358" width="3" height="12" fill="#ef5350"/>
<rect x="1020" y="357" width="1" height="13" fill="#26a69a"/><rect x="1019" y="360" width="3" height="9" fill="#26a69a"/>
<rect x="1024" y="360" width="1" height="8" fill="#ef5350"/><rect x="1023" y="361" width="3" height="4" fill="#ef5350"/>
<rect x="1028" y="345" width="1" height="20" fill="#26a69a"/><rect x="1027" y="346" width="3" height="19" fill="#26a69a"/>
<rect x="1032" y="324" width="1" height="25" fill="#26a69a"/><rect x="1031" y="328" width="3" height="18" fill="#26a69a"/>
<rect x="1036" y="316" width="1" height="23" fill="#ef5350"/><rect x="1035" y="328" width="3" height="2" fill="#ef5350"/>
<rect x="1040" y="318" width="1" height="16" fill="#26a69a"/><rect x="1039" y="322" width="3" height="8" fill="#26a69a"/>
<rect x="1043" y="306" width="1" height="20" fill="#26a69a"/><rect x="1042" y="307" width="3" height="16" fill="#26a69a"/>
<rect x="1047" y="275" width="1" height="34" fill="#26a69a"/><rect x="1046" y="279" width="3" height="29" fill="#26a69a"/>
<rect x="1051" y="235" width="1" height="48" fill="#26a69a"/><rect x="1050" y="260" width="3" height="20" fill="#26a69a"/>
<rect x="1055" y="252" width="1" height="30" fill="#ef5350"/><rect x="1054" y="260" width="3" height="17" fill="#ef5350"/>
<rect x="1059" y="270" width="1" height="33" fill="#ef5350"/><rect x="1058" y="276" width="3" height="15" fill="#ef5350"/>
<rect x="1063" y="284" width="1" height="22" fill="#26a69a"/><rect x="1062" y="287" width="3" height="4" fill="#26a69a"/>
<rect x="1067" y="268" width="1" height="33" fill="#26a69a"/><rect x="1066" y="269" width="3" height="19" fill="#26a69a"/>
<rect x="1071" y="261" width="1" height="18" fill="#ef5350"/><rect x="1070" y="269" width="3" height="7" fill="#ef5350"/>
<rect x="1074" y="266" width="1" height="31" fill="#ef5350"/><rect x="1073" y="275" width="3" height="20" fill="#ef5350"/>
<rect x="1078" y="288" width="1" height="9" fill="#26a69a"/><rect x="1077" y="291" width="3" height="4" fill="#26a69a"/>
<rect x="1082" y="288" width="1" height="13" fill="#ef5350"/><rect x="1081" y="291" width="3" height="9" fill="#ef5350"/>
<rect x="1086" y="298" width="1" height="45" fill="#ef5350"/><rect x="1085" y="300" width="3" height="28" fill="#ef5350"/>
<rect x="1090" y="324" width="1" height="12" fill="#ef5350"/><rect x="1089" y="328" width="3" height="7" fill="#ef5350"/>
<rect x="1094" y="315" width="1" height="28" fill="#26a69a"/><rect x="1093" y="328" width="3" height="8" fill="#26a69a"/>
<rect x="1098" y="327" width="1" height="31" fill="#ef5350"/><rect x="1097" y="328" width="3" height="27" fill="#ef5350"/>
<rect x="1102" y="339" width="1" height="17" fill="#26a69a"/><rect x="1101" y="341" width="3" height="14" fill="#26a69a"/>
<rect x="1105" y="338" width="1" height="9" fill="#ef5350"/><rect x="1104" y="341" width="3" height="3" fill="#ef5350"/>
<rect x="1109" y="334" width="1" height="17" fill="#26a69a"/><rect x="1108" y="334" width="3" height="10" fill="#26a69a"/>
<rect x="1113" y="331" width="1" height="15" fill="#ef5350"/><rect x="1112" y="334" width="3" height="3" fill="#ef5350"/>
<rect x="1117" y="334" width="1" height="15" fill="#ef5350"/><rect x="1116" y="337" width="3" height="4" fill="#ef5350"/>
<rect x="1121" y="317" width="1" height="27" fill="#26a69a"/><rect x="1120" y="317" width="3" height="24" fill="#26a69a"/>
<rect x="1125" y="296" width="1" height="24" fill="#26a69a"/><rect x="1124" y="299" width="3" height="18" fill="#26a69a"/>
<rect x="1129" y="294" width="1" height="18" fill="#ef5350"/><rect x="1128" y="299" width="3" height="6" fill="#ef5350"/>
<rect x="1133" y="302" width="1" height="18" fill="#ef5350"/><rect x="1132" y="304" width="3" height="10" fill="#ef5350"/>
<rect x="1136" y="294" width="1" height="22" fill="#26a69a"/><rect x="1135" y="312" width="3" height="3" fill="#26a69a"/>
<rect x="1140" y="287" width="1" height="28" fill="#26a69a"/><rect x="1139" y="293" width="3" height="20" fill="#26a69a"/>
<rect x="1144" y="290" width="1" height="31" fill="#ef5350"/><rect x="1143" y="293" width="3" height="28" fill="#ef5350"/>
<rect x="1148" y="300" width="1" height="26" fill="#26a69a"/><rect x="1147" y="308" width="3" height="13" fill="#26a69a"/>
<rect x="1152" y="307" width="1" height="19" fill="#ef5350"/><rect x="1151" y="308" width="3" height="10" fill="#ef5350"/>
<rect x="1156" y="310" width="1" height="226" fill="#ef5350"/><rect x="1155" y="318" width="3" height="79" fill="#ef5350"/>
<rect x="1160" y="385" width="1" height="33" fill="#ef5350"/><rect x="1159" y="396" width="3" height="13" fill="#ef5350"/>
<rect x="1164" y="367" width="1" height="47" fill="#26a69a"/><rect x="1163" y="377" width="3" height="32" fill="#26a69a"/>
<rect x="1167" y="361" width="1" height="23" fill="#26a69a"/><rect x="1166" y="367" width="3" height="10" fill="#26a69a"/>
<rect x="1171" y="365" width="1" height="30" fill="#ef5350"/><rect x="1170" y="367" width="3" height="15" fill="#ef5350"/>
<rect x="1175" y="376" width="1" height="19" fill="#ef5350"/><rect x="1174" y="381" width="3" height="11" fill="#ef5350"/>
<rect x="1179" y="385" width="1" height="24" fill="#ef5350"/><rect x="1178" y="392" width="3" height="12" fill="#ef5350"/>
<rect x="1183" y="398" width="1" height="24" fill="#ef5350"/><rect x="1182" y="403" width="3" height="7" fill="#ef5350"/>
<rect x="1187" y="400" width="1" height="10" fill="#26a69a"/><rect x="1186" y="402" width="3" height="8" fill="#26a69a"/>
<rect x="1191" y="389" width="1" height="18" fill="#26a69a"/><rect x="1190" y="393" width="3" height="10" fill="#26a69a"/>
<rect x="1195" y="383" width="1" height="15" fill="#26a69a"/><rect x="1194" y="387" width="3" height="7" fill="#26a69a"/>
<rect x="1198" y="379" width="1" height="19" fill="#ef5350"/><rect x="1197" y="387" width="3" height="9" fill="#ef5350"/>
<rect x="1202" y="393" width="1" height="13" fill="#ef5350"/><rect x="1201" y="395" width="3" height="4" fill="#ef5350"/>
</g>
<line x1="10" y1="398.5" x2="1289" y2="398.5" stroke="#ef5350" stroke-width="1" stroke-dasharray="1 2" shape-rendering="crispEdges"/>
</g>
<g clip-path="url(#cr)">
<path d="M557.2,615 L559.2,612.9 L563.0,581.2 L565.0,615 Z" fill="url(#ob)"/>
<path d="M820.4,615 L822.4,614.2 L826.1,608.2 L830.0,593.7 L834.3,589.2 L837.9,573.6 L841.8,578.4 L845.7,579.7 L847.7,615 Z" fill="url(#ob)"/>
<path d="M1045.7,615 L1047.7,611.4 L1050.0,602.8 L1051.7,603.4 L1053.7,615 Z" fill="url(#ob)"/>
<polyline points="10.0,692.4 12.6,712.9 16.5,709.3 19.7,707.5 24.0,711.4 28.4,700.0 31.6,690.7 35.9,692.9 40.2,705.0 43.5,705.4 46.7,693.5 50.0,698.5 54.3,700.6 58.6,698.9 62.9,688.5 67.2,675.2 70.9,643.8 74.8,635.2 78.5,647.1 81.9,643.2 85.6,674.7 89.5,678.4 93.8,691.3 97.5,682.1 101.8,675.8 106.1,679.5 109.4,676.9 113.0,661.1 116.9,644.5 120.6,651.4 124.9,630.2 128.8,647.1 132.7,670.4 136.3,673.0 140.0,662.6 143.9,668.7 148.2,674.7 152.1,675.6 156.2,673.6 160.1,684.9 163.8,687.0 168.1,696.3 172.0,689.2 175.2,684.4 179.1,687.0 182.8,701.1 187.1,723.1 191.0,706.5 195.3,716.2 199.6,720.1 203.3,724.2 206.5,724.4 210.4,717.3 214.1,719.4 218.0,712.3 222.3,713.6 226.0,700.6 229.9,701.5 233.5,690.3 237.2,690.3 241.1,695.7 245.0,702.1 248.7,707.5 253.0,703.2 256.9,703.2 260.5,716.2 264.2,705.8 267.7,708.6 271.8,731.3 276.0,730.2 279.7,735.2 284.0,729.1 287.9,732.4 291.6,724.4 294.8,678.4 299.2,709.3 303.0,709.3 307.1,702.1 311.0,704.3 314.9,706.9 318.6,711.9 322.5,724.8 326.2,734.5 330.0,720.5 334.1,710.1 338.0,715.8 341.9,706.5 346.0,701.1 349.9,707.5 353.8,700.6 357.5,705.4 361.1,690.9 365.0,698.9 369.4,701.1 373.2,701.1 376.9,693.5 381.2,677.3 384.5,668.7 388.1,662.2 392.0,668.7 395.9,681.6 399.6,693.5 403.9,697.2 407.8,696.7 411.9,683.8 415.8,696.3 419.0,698.5 422.9,682.7 427.0,686.0 430.9,708.6 435.2,707.5 438.9,715.8 442.8,684.9 447.1,693.5 450.3,683.4 454.0,671.9 457.9,678.4 461.8,683.8 465.9,690.3 469.8,688.1 474.1,686.0 478.0,682.7 481.7,683.4 484.9,686.6 488.6,678.4 492.5,646.0 496.3,646.0 500.7,640.2 504.3,641.7 508.7,641.7 512.3,648.2 516.2,648.8 520.1,659.6 523.8,666.1 527.7,648.2 532.6,646.6 536.0,660.0 539.7,674.1 543.0,673.4 546.8,669.8 551.0,670.2 554.8,621.6 559.2,612.9 563.0,581.2 567.1,615.8 571.0,616.8 574.3,609.3 577.9,623.3 581.8,642.3 585.7,640.6 590.0,651.0 593.7,633.0 598.0,645.3 601.9,643.2 605.6,635.2 609.3,625.9 613.2,653.6 620.7,654.2 625.0,652.9 628.9,652.9 632.6,660.0 635.8,668.7 640.2,695.7 643.8,697.2 648.1,695.0 652.0,692.9 655.9,695.7 660.2,702.1 663.9,720.1 667.8,703.2 671.5,693.9 675.1,695.0 679.0,676.2 682.9,671.3 687.0,679.5 690.9,694.6 694.8,695.2 698.9,698.9 702.8,702.8 706.7,706.5 710.3,710.8 714.2,707.5 717.9,706.5 721.8,716.2 725.5,726.6 729.1,731.3 733.0,700.6 737.3,695.7 741.0,697.2 744.9,704.3 748.6,702.1 752.5,695.7 756.8,681.2 760.7,692.4 764.3,702.1 768.2,676.9 772.3,670.2 776.2,686.6 780.1,683.8 783.8,668.2 788.1,675.6 790.0,673.0 794.3,653.6 799.1,630.9 803.0,625.0 807.3,632.4 811.0,630.9 815.3,633.7 819.2,631.5 822.4,614.2 826.1,608.2 830.0,593.7 834.3,589.2 837.9,573.6 841.8,578.4 845.7,579.7 849.4,634.1 853.1,646.6 857.0,642.3 860.8,643.8 864.9,638.4 868.8,659.4 873.2,663.3 877.0,668.2 880.7,679.5 885.0,692.4 888.3,701.1 892.2,687.0 895.8,673.6 900.2,685.5 904.0,678.0 907.7,658.3 911.6,649.7 915.9,641.0 919.6,652.5 923.3,664.4 927.1,651.4 931.0,641.7 935.1,664.8 939.0,661.8 942.9,659.0 947.0,655.7 950.9,670.8 954.1,683.8 958.0,670.4 962.1,677.3 966.0,652.0 969.9,656.1 973.6,660.5 977.9,683.4 981.6,674.1 985.5,673.4 989.1,667.6 993.0,678.4 996.9,676.7 1001.0,679.0 1004.9,682.3 1008.6,677.3 1012.0,669.1 1016.1,679.5 1020.0,671.5 1024.3,673.0 1028.2,656.1 1032.3,642.3 1036.2,643.8 1040.1,638.4 1043.8,625.9 1047.7,611.4 1050.0,602.8 1051.7,603.4 1055.4,623.3 1059.1,635.2 1063.0,634.1 1066.8,623.7 1070.5,629.8 1074.2,648.2 1078.1,646.6 1082.0,656.8 1086.1,677.7 1090.0,683.4 1093.8,679.0 1097.9,696.3 1101.8,684.9 1105.1,686.0 1109.0,677.7 1113.1,680.6 1117.0,682.7 1120.8,660.0 1124.9,647.7 1129.3,653.6 1133.2,662.6 1136.8,660.0 1140.3,646.0 1144.0,669.8 1147.8,660.7 1151.5,666.5 1155.8,713.6 1160.2,717.9 1163.8,696.3 1167.3,688.8 1171.0,694.2 1174.8,700.0 1178.9,705.8 1182.8,708.2 1186.7,702.8 1190.8,696.3 1194.7,690.3 1198.6,694.6 1202.3,696.7" fill="none" stroke="#7e57c2" stroke-width="3" stroke-linejoin="round" stroke-linecap="round" />
<polyline points="10.0,654.6 16.5,666.5 24.0,678.4 31.6,683.8 39.2,689.8 46.7,695.7 54.3,700.0 60.8,701.5 66.2,698.9 72.6,690.3 79.1,682.7 83.4,679.5 92.1,676.2 100.7,673.0 109.4,670.2 116.9,665.4 122.3,663.3 127.7,662.8 133.1,664.8 139.6,665.9 148.2,664.4 156.9,663.9 163.3,664.8 169.8,668.7 176.3,674.1 182.8,680.6 191.4,687.0 200.1,694.6 208.7,703.2 217.3,708.6 226.0,711.4 232.5,712.3 238.9,710.8 245.4,708.6 254.1,706.5 261.6,705.0 268.1,703.7 270.0,704.3 276.5,706.5 283.0,710.1 290.5,715.1 298.1,715.5 308.9,715.8 317.5,715.1 325.1,717.3 331.6,715.1 339.1,712.9 345.6,710.1 349.9,712.3 356.4,711.4 365.0,710.1 373.7,708.2 380.2,703.2 386.6,696.7 393.1,691.3 399.6,689.2 408.2,688.1 416.9,687.5 423.3,686.0 429.8,684.9 436.3,689.2 442.8,693.5 449.3,695.2 455.7,692.9 464.4,690.9 473.0,690.3 481.7,689.8 488.1,687.0 494.6,680.6 503.3,673.0 511.9,666.5 520.5,661.8 529.2,656.8 530.0,656.8 536.5,654.0 543.0,653.6 551.6,656.4 560.2,650.3 568.9,644.9 577.5,638.0 588.3,635.6 597.0,631.5 603.4,628.1 607.8,626.6 612.1,629.8 618.6,635.8 627.2,641.7 635.8,648.2 644.5,655.7 653.1,663.3 659.6,670.2 666.1,679.5 674.7,687.0 683.3,690.7 692.0,693.9 700.6,694.6 709.3,696.3 717.9,696.1 724.4,698.9 733.0,703.9 741.7,707.1 750.3,707.5 758.9,705.4 767.6,703.2 776.2,697.2 784.9,689.8 790.0,686.0 796.5,680.6 803.0,670.8 811.6,662.2 820.2,651.4 828.9,639.5 837.5,625.5 844.0,614.2 849.4,611.0 857.0,613.6 864.5,615.1 872.1,619.0 880.7,627.6 887.2,639.5 893.7,652.5 900.2,663.3 906.6,669.1 914.2,670.2 921.7,670.8 928.2,669.1 936.9,665.0 945.5,660.0 954.1,659.0 962.8,659.6 971.4,661.5 980.1,664.8 988.7,667.6 997.3,670.4 1006.0,672.3 1014.6,671.9 1022.2,673.0 1027.6,674.7 1034.1,670.8 1040.5,666.5 1047.0,659.0 1050.0,654.0 1056.5,648.2 1065.1,640.6 1073.8,634.5 1080.2,633.3 1086.7,635.8 1093.2,640.6 1100.8,648.8 1106.2,657.9 1112.6,664.8 1119.1,669.8 1125.6,672.3 1134.2,674.1 1140.7,671.9 1147.2,668.7 1152.6,667.6 1160.2,670.8 1168.8,673.0 1175.3,677.3 1183.9,684.9 1192.5,691.3 1201.2,697.2" fill="none" stroke="#fdd835" stroke-width="1.2" stroke-linejoin="round" stroke-linecap="round" />
<line x1="10" y1="615.5" x2="1289" y2="615.5" stroke="#787b86" stroke-opacity="1" stroke-width="1" stroke-dasharray="5 6" shape-rendering="crispEdges"/>
<line x1="10" y1="670.5" x2="1289" y2="670.5" stroke="#787b86" stroke-opacity="0.5" stroke-width="1" stroke-dasharray="5 6" shape-rendering="crispEdges"/>
<line x1="10" y1="724.5" x2="1289" y2="724.5" stroke="#787b86" stroke-opacity="1" stroke-width="1" stroke-dasharray="5 6" shape-rendering="crispEdges"/>
</g>
<path d="M1211.92,548.46 A9.85,9.85 0 1 1 1205.43,542.08" fill="none" stroke="#9c27b0" stroke-width="1.35" stroke-linecap="round"/><path d="M1204.66,546.15 L1198.27,551.53 L1202.14,551.97 L1199.18,556.78 L1206.68,551.3 L1203.08,550.86 Z" fill="#9c27b0" stroke="#9c27b0" stroke-width="0.15" stroke-linejoin="round"/><circle cx="1209.4" cy="544.5" r="2.5" fill="#f23645"/>
<text filter="url(#gs)" x="1297.8" y="107" font-size="12.8" fill="#131722" stroke="#131722" stroke-width="0.22" font-weight="normal" text-anchor="start" textLength="42.4" lengthAdjust="spacingAndGlyphs">0.40000</text>
<text filter="url(#gs)" x="1297.8" y="178" font-size="12.8" fill="#131722" stroke="#131722" stroke-width="0.22" font-weight="normal" text-anchor="start" textLength="42.4" lengthAdjust="spacingAndGlyphs">0.35000</text>
<text filter="url(#gs)" x="1297.8" y="249" font-size="12.8" fill="#131722" stroke="#131722" stroke-width="0.22" font-weight="normal" text-anchor="start" textLength="42.4" lengthAdjust="spacingAndGlyphs">0.30000</text>
<text filter="url(#gs)" x="1297.8" y="320" font-size="12.8" fill="#131722" stroke="#131722" stroke-width="0.22" font-weight="normal" text-anchor="start" textLength="42.4" lengthAdjust="spacingAndGlyphs">0.25000</text>
<text filter="url(#gs)" x="1297.8" y="391" font-size="12.8" fill="#131722" stroke="#131722" stroke-width="0.22" font-weight="normal" text-anchor="start" textLength="42.4" lengthAdjust="spacingAndGlyphs">0.20000</text>
<text filter="url(#gs)" x="1297.8" y="462" font-size="12.8" fill="#131722" stroke="#131722" stroke-width="0.22" font-weight="normal" text-anchor="start" textLength="42.4" lengthAdjust="spacingAndGlyphs">0.15000</text>
<text filter="url(#gs)" x="1297.8" y="534" font-size="12.8" fill="#131722" stroke="#131722" stroke-width="0.22" font-weight="normal" text-anchor="start" textLength="42.4" lengthAdjust="spacingAndGlyphs">0.10000</text>
<text filter="url(#gs)" x="1297.8" y="592" font-size="12.8" fill="#131722" stroke="#131722" stroke-width="0.22" font-weight="normal" text-anchor="start" textLength="30" lengthAdjust="spacingAndGlyphs">80.00</text>
<text filter="url(#gs)" x="1297.8" y="646.5" font-size="12.8" fill="#131722" stroke="#131722" stroke-width="0.22" font-weight="normal" text-anchor="start" textLength="30" lengthAdjust="spacingAndGlyphs">60.00</text>
<rect x="1290" y="251" width="56" height="17" rx="2" fill="#0000ff"/>
<text filter="url(#gs)" x="1297.8" y="264" font-size="12.8" fill="#fff" stroke="#fff" stroke-width="0.3" font-weight="normal" text-anchor="start" textLength="42.4" lengthAdjust="spacingAndGlyphs">0.29000</text>
<rect x="1290" y="464" width="56" height="17" rx="2" fill="#0000ff"/>
<text filter="url(#gs)" x="1297.8" y="477" font-size="12.8" fill="#fff" stroke="#fff" stroke-width="0.3" font-weight="normal" text-anchor="start" textLength="42.4" lengthAdjust="spacingAndGlyphs">0.14000</text>
<rect x="1239" y="329" width="107" height="17" rx="2" fill="#f23645"/>
<rect x="1289" y="329" width="1" height="17" fill="#e6e8ee" shape-rendering="crispEdges"/>
<text filter="url(#gs)" x="1244" y="342" font-size="12" fill="#fff" stroke="#fff" stroke-width="0.3" font-weight="normal" text-anchor="start" textLength="40.5" lengthAdjust="spacingAndGlyphs">SMA:MA</text>
<text filter="url(#gs)" x="1297.8" y="342" font-size="12.8" fill="#fff" stroke="#fff" stroke-width="0.3" font-weight="normal" text-anchor="start" textLength="42.4" lengthAdjust="spacingAndGlyphs">0.23521</text>
<rect x="1290" y="348" width="56" height="17" rx="2" fill="#0000ff"/>
<text filter="url(#gs)" x="1297.8" y="361" font-size="12.8" fill="#fff" stroke="#fff" stroke-width="0.3" font-weight="normal" text-anchor="start" textLength="42.4" lengthAdjust="spacingAndGlyphs">0.21000</text>
<rect x="1258" y="365" width="88" height="17" rx="2" fill="#2962ff"/>
<rect x="1289" y="365" width="1" height="17" fill="#e6e8ee" shape-rendering="crispEdges"/>
<text filter="url(#gs)" x="1263" y="378" font-size="12" fill="#fff" stroke="#fff" stroke-width="0.3" font-weight="normal" text-anchor="start" textLength="21.5" lengthAdjust="spacingAndGlyphs">EMA</text>
<text filter="url(#gs)" x="1297.8" y="378" font-size="12.8" fill="#fff" stroke="#fff" stroke-width="0.3" font-weight="normal" text-anchor="start" textLength="42.4" lengthAdjust="spacingAndGlyphs">0.20995</text>
<rect x="1223" y="390" width="69" height="17" rx="2" fill="#ef5350"/>
<rect x="1290" y="390" width="60" height="44.5" rx="2" fill="#ef5350"/>
<rect x="1289" y="390" width="1" height="17" fill="#e6e8ee" shape-rendering="crispEdges"/>
<text filter="url(#gs)" x="1227.5" y="403" font-size="12" fill="#fff" stroke="#fff" stroke-width="0.3" font-weight="normal" text-anchor="start" textLength="56.5" lengthAdjust="spacingAndGlyphs">DOGEUSDT</text>
<text filter="url(#gs)" x="1297.8" y="403" font-size="12.8" fill="#fff" stroke="#fff" stroke-width="0.3" font-weight="normal" text-anchor="start" textLength="42.4" lengthAdjust="spacingAndGlyphs">0.19245</text>
<text filter="url(#gs)" x="1297.8" y="417.6" font-size="12.8" fill="#fff" stroke="#fff" stroke-width="0.3" font-weight="normal" text-anchor="start" textLength="43" lengthAdjust="spacingAndGlyphs">−46.28%</text>
<text filter="url(#gs)" x="1297.8" y="431.2" font-size="12.8" fill="#fff" stroke="#fff" stroke-width="0.3" font-weight="normal" text-anchor="start" textLength="45.3" lengthAdjust="spacingAndGlyphs" fill-opacity="0.75">08:13:11</text>
<rect x="1264" y="689" width="69" height="17" rx="2" fill="#7e57c2"/>
<rect x="1289" y="689" width="1" height="17" fill="#e6e8ee" shape-rendering="crispEdges"/>
<text filter="url(#gs)" x="1269" y="702" font-size="12" fill="#fff" stroke="#fff" stroke-width="0.3" font-weight="normal" text-anchor="start" textLength="15.5" lengthAdjust="spacingAndGlyphs">RSI</text>
<text filter="url(#gs)" x="1297.8" y="702" font-size="12.8" fill="#fff" stroke="#fff" stroke-width="0.3" font-weight="normal" text-anchor="start" textLength="30" lengthAdjust="spacingAndGlyphs">39.97</text>
<rect x="1210" y="706" width="123" height="17" rx="2" fill="#fdd835"/>
<rect x="1289" y="706" width="1" height="17" fill="#e6e8ee" shape-rendering="crispEdges"/>
<text filter="url(#gs)" x="1215" y="719" font-size="12" fill="#131722" stroke="#131722" stroke-width="0.22" font-weight="normal" text-anchor="start" textLength="70" lengthAdjust="spacingAndGlyphs">RSI-based MA</text>
<text filter="url(#gs)" x="1297.8" y="719" font-size="12.8" fill="#131722" stroke="#131722" stroke-width="0.22" font-weight="normal" text-anchor="start" textLength="30" lengthAdjust="spacingAndGlyphs">39.41</text>
<rect x="1293" y="31" width="60" height="26.5" rx="4" fill="#fff" stroke="#f1f2f4" stroke-width="1.4"/>
<text filter="url(#gs)" x="1302.5" y="48.8" font-size="12" fill="#131722" stroke="#131722" stroke-width="0.22" font-weight="normal" text-anchor="start" textLength="27" lengthAdjust="spacingAndGlyphs">USDT</text>
<text filter="url(#gs)" x="63.11239999999994" y="763.2" font-size="12" fill="#131722" stroke="#131722" stroke-width="0" font-weight="bold" text-anchor="middle">2025</text>
<text filter="url(#gs)" x="183.2498" y="763.2" font-size="12" fill="#131722" stroke="#131722" stroke-width="0.22" font-weight="normal" text-anchor="middle">Feb</text>
<text filter="url(#gs)" x="291.761" y="763.2" font-size="12" fill="#131722" stroke="#131722" stroke-width="0.22" font-weight="normal" text-anchor="middle">Mar</text>
<text filter="url(#gs)" x="411.8984" y="763.2" font-size="12" fill="#131722" stroke="#131722" stroke-width="0.22" font-weight="normal" text-anchor="middle">Apr</text>
<text filter="url(#gs)" x="528.1604" y="763.2" font-size="12" fill="#131722" stroke="#131722" stroke-width="0.22" font-weight="normal" text-anchor="middle">May</text>
<text filter="url(#gs)" x="648.2978" y="763.2" font-size="12" fill="#131722" stroke="#131722" stroke-width="0.22" font-weight="normal" text-anchor="middle">Jun</text>
<text filter="url(#gs)" x="764.5598" y="763.2" font-size="12" fill="#131722" stroke="#131722" stroke-width="0.22" font-weight="normal" text-anchor="middle">Jul</text>
<text filter="url(#gs)" x="884.6972000000001" y="763.2" font-size="12" fill="#131722" stroke="#131722" stroke-width="0.22" font-weight="normal" text-anchor="middle">Aug</text>
<text filter="url(#gs)" x="1004.8346" y="763.2" font-size="12" fill="#131722" stroke="#131722" stroke-width="0.22" font-weight="normal" text-anchor="middle">Sep</text>
<text filter="url(#gs)" x="1121.0966" y="763.2" font-size="12" fill="#131722" stroke="#131722" stroke-width="0.22" font-weight="normal" text-anchor="middle">Oct</text>
<text filter="url(#gs)" x="1241.234" y="763.2" font-size="12" fill="#131722" stroke="#131722" stroke-width="0.22" font-weight="normal" text-anchor="middle">Nov</text>
<text filter="url(#gs)" x="10.6" y="18.8" font-size="12.6" fill="#131722" stroke="#131722" stroke-width="0.22" font-weight="normal" text-anchor="start" textLength="58.5" lengthAdjust="spacingAndGlyphs">ranadagger</text><text filter="url(#gs)" x="73.8" y="18.8" font-size="12.6" fill="#131722" stroke="#131722" stroke-width="0.22" font-weight="normal" text-anchor="start" textLength="40.2" lengthAdjust="spacingAndGlyphs">created</text><text filter="url(#gs)" x="119.6" y="18.8" font-size="12.6" fill="#131722" stroke="#131722" stroke-width="0.22" font-weight="normal" text-anchor="start" textLength="22.2" lengthAdjust="spacingAndGlyphs">with</text><text filter="url(#gs)" x="146.2" y="18.8" font-size="12.6" fill="#131722" stroke="#131722" stroke-width="0.22" font-weight="normal" text-anchor="start" textLength="93.3" lengthAdjust="spacingAndGlyphs">TradingView.com,</text><text filter="url(#gs)" x="244.6" y="18.8" font-size="12.6" fill="#131722" stroke="#131722" stroke-width="0.22" font-weight="normal" text-anchor="start" textLength="18.0" lengthAdjust="spacingAndGlyphs">Oct</text><text filter="url(#gs)" x="267.6" y="18.8" font-size="12.6" fill="#131722" stroke="#131722" stroke-width="0.22" font-weight="normal" text-anchor="start" textLength="15.8" lengthAdjust="spacingAndGlyphs">22,</text><text filter="url(#gs)" x="287.8" y="18.8" font-size="12.6" fill="#131722" stroke="#131722" stroke-width="0.22" font-weight="normal" text-anchor="start" textLength="24.6" lengthAdjust="spacingAndGlyphs">2025</text><text filter="url(#gs)" x="317.8" y="18.8" font-size="12.6" fill="#131722" stroke="#131722" stroke-width="0.22" font-weight="normal" text-anchor="start" textLength="27.8" lengthAdjust="spacingAndGlyphs">15:46</text><text filter="url(#gs)" x="349.2" y="18.8" font-size="12.6" fill="#131722" stroke="#131722" stroke-width="0.22" font-weight="normal" text-anchor="start" textLength="21.7" lengthAdjust="spacingAndGlyphs">UTC</text>
<text filter="url(#gs)" x="18.5" y="45.8" font-size="12" fill="#131722" stroke="#131722" stroke-width="0.22" font-weight="normal" text-anchor="start" textLength="47.2" lengthAdjust="spacingAndGlyphs">Dogecoin</text><text filter="url(#gs)" x="72.4" y="45.8" font-size="12" fill="#131722" stroke="#131722" stroke-width="0.22" font-weight="normal" text-anchor="start" textLength="3.5" lengthAdjust="spacingAndGlyphs">/</text><text filter="url(#gs)" x="81.1" y="45.8" font-size="12" fill="#131722" stroke="#131722" stroke-width="0.22" font-weight="normal" text-anchor="start" textLength="46.5" lengthAdjust="spacingAndGlyphs">TetherUS</text><text filter="url(#gs)" x="140.3" y="45.8" font-size="12" fill="#131722" stroke="#131722" stroke-width="0.22" font-weight="normal" text-anchor="start" textLength="11.7" lengthAdjust="spacingAndGlyphs">1D</text><text filter="url(#gs)" x="165.9" y="45.8" font-size="12" fill="#131722" stroke="#131722" stroke-width="0.22" font-weight="normal" text-anchor="start" textLength="40.7" lengthAdjust="spacingAndGlyphs">Binance</text>
<rect x="132.5" y="42.1" width="2.4" height="2.4" fill="#131722"/><rect x="158.6" y="42.1" width="2.4" height="2.4" fill="#131722"/>
<text filter="url(#gs)" x="214.6" y="45.8" font-size="12" fill="#131722" stroke="#131722" stroke-width="0.22" font-weight="normal" text-anchor="start" textLength="8.1" lengthAdjust="spacingAndGlyphs">O</text>
<text filter="url(#gs)" x="223.4" y="45.8" font-size="12.8" fill="#ef5350" stroke="#ef5350" stroke-width="0.22" font-weight="normal" text-anchor="start" textLength="40.7" lengthAdjust="spacingAndGlyphs">0.19427</text>
<text filter="url(#gs)" x="272.4" y="45.8" font-size="12" fill="#131722" stroke="#131722" stroke-width="0.22" font-weight="normal" text-anchor="start" textLength="7.3" lengthAdjust="spacingAndGlyphs">H</text>
<text filter="url(#gs)" x="280.2" y="45.8" font-size="12.8" fill="#ef5350" stroke="#ef5350" stroke-width="0.22" font-weight="normal" text-anchor="start" textLength="41.5" lengthAdjust="spacingAndGlyphs">0.19544</text>
<text filter="url(#gs)" x="329.9" y="45.8" font-size="12" fill="#131722" stroke="#131722" stroke-width="0.22" font-weight="normal" text-anchor="start" textLength="5.2" lengthAdjust="spacingAndGlyphs">L</text>
<text filter="url(#gs)" x="335.8" y="45.8" font-size="12.8" fill="#ef5350" stroke="#ef5350" stroke-width="0.22" font-weight="normal" text-anchor="start" textLength="41.5" lengthAdjust="spacingAndGlyphs">0.18663</text>
<text filter="url(#gs)" x="385.1" y="45.8" font-size="12" fill="#131722" stroke="#131722" stroke-width="0.22" font-weight="normal" text-anchor="start" textLength="6.6" lengthAdjust="spacingAndGlyphs">C</text>
<text filter="url(#gs)" x="392" y="45.8" font-size="12.8" fill="#ef5350" stroke="#ef5350" stroke-width="0.22" font-weight="normal" text-anchor="start" textLength="42" lengthAdjust="spacingAndGlyphs">0.19245</text>
<text filter="url(#gs)" x="442" y="45.8" font-size="12.8" fill="#ef5350" stroke="#ef5350" stroke-width="0.22" font-weight="normal" text-anchor="start" textLength="47" lengthAdjust="spacingAndGlyphs">−0.00182</text>
<text filter="url(#gs)" x="494" y="45.8" font-size="12.8" fill="#ef5350" stroke="#ef5350" stroke-width="0.22" font-weight="normal" text-anchor="start" textLength="44.5" lengthAdjust="spacingAndGlyphs">(−0.94%)</text>
<text filter="url(#gs)" x="18.3" y="62.8" font-size="12" fill="#131722" stroke="#131722" stroke-width="0.22" font-weight="normal" text-anchor="start" textLength="21.5" lengthAdjust="spacingAndGlyphs">EMA</text><text filter="url(#gs)" x="44.6" y="62.8" font-size="12" fill="#131722" stroke="#131722" stroke-width="0.22" font-weight="normal" text-anchor="start" textLength="19.5" lengthAdjust="spacingAndGlyphs">(20,</text><text filter="url(#gs)" x="68.8" y="62.8" font-size="12" fill="#131722" stroke="#131722" stroke-width="0.22" font-weight="normal" text-anchor="start" textLength="31.0" lengthAdjust="spacingAndGlyphs">close)</text>
<text filter="url(#gs)" x="108" y="62.8" font-size="12.8" fill="#2962ff" stroke="#2962ff" stroke-width="0.22" font-weight="normal" text-anchor="start" textLength="41.2" lengthAdjust="spacingAndGlyphs">0.20995</text>
<text filter="url(#gs)" x="18.3" y="79.7" font-size="12" fill="#131722" stroke="#131722" stroke-width="0.22" font-weight="normal" text-anchor="start" textLength="20.9" lengthAdjust="spacingAndGlyphs">SMA</text><text filter="url(#gs)" x="43.9" y="79.7" font-size="12" fill="#131722" stroke="#131722" stroke-width="0.22" font-weight="normal" text-anchor="start" textLength="19.7" lengthAdjust="spacingAndGlyphs">(50,</text><text filter="url(#gs)" x="68" y="79.7" font-size="12" fill="#131722" stroke="#131722" stroke-width="0.22" font-weight="normal" text-anchor="start" textLength="31.2" lengthAdjust="spacingAndGlyphs">close)</text>
<text filter="url(#gs)" x="107.5" y="79.7" font-size="12.8" fill="#f23645" stroke="#f23645" stroke-width="0.22" font-weight="normal" text-anchor="start" textLength="40.6" lengthAdjust="spacingAndGlyphs">0.23521</text>
<text filter="url(#gs)" x="18.2" y="584" font-size="12" fill="#131722" stroke="#131722" stroke-width="0.22" font-weight="normal" text-anchor="start" textLength="14.5" lengthAdjust="spacingAndGlyphs">RSI</text><text filter="url(#gs)" x="39.2" y="584" font-size="12" fill="#131722" stroke="#131722" stroke-width="0.22" font-weight="normal" text-anchor="start" textLength="19.4" lengthAdjust="spacingAndGlyphs">(14,</text><text filter="url(#gs)" x="62.9" y="584" font-size="12" fill="#131722" stroke="#131722" stroke-width="0.22" font-weight="normal" text-anchor="start" textLength="30.3" lengthAdjust="spacingAndGlyphs">close)</text>
<text filter="url(#gs)" x="102.4" y="584" font-size="12.8" fill="#7e57c2" stroke="#7e57c2" stroke-width="0.22" font-weight="normal" text-anchor="start" textLength="28.6" lengthAdjust="spacingAndGlyphs">39.97</text>
<text filter="url(#gs)" x="138.9" y="584" font-size="12.8" fill="#fdd835" stroke="#fdd835" stroke-width="0.22" font-weight="normal" text-anchor="start" textLength="28.3" lengthAdjust="spacingAndGlyphs">39.41</text>
<g fill="#131722"><path d="M12.2,795.3 H24.1 V809.6 H17.9 V801.1 H12.2 Z"/><circle cx="29.1" cy="797.9" r="2.4"/><path d="M34.2,795.3 H41.2 L35.9,809.6 H28.7 Z"/></g>
<text filter="url(#gs)" x="49.1" y="809.6" font-size="19.6" fill="#131722" stroke="#131722" stroke-width="0" font-weight="bold" text-anchor="start" textLength="120.5" lengthAdjust="spacingAndGlyphs">TradingView</text>
</svg>
</body></html>
